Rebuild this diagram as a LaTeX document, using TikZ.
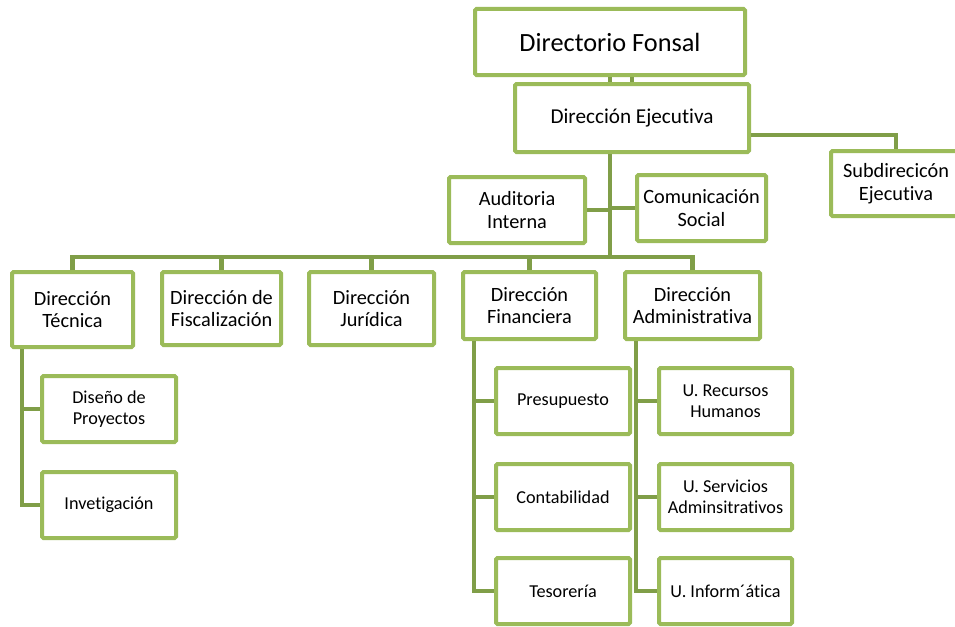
\documentclass[tikz,border=0pt]{standalone}
\usepackage{fontspec}
\setmainfont{Carlito}[Ligatures=NoCommon]
\usetikzlibrary{calc}
\definecolor{bord}{RGB}{155,187,89}
\definecolor{conn}{RGB}{128,158,72}
\begin{document}
\begin{tikzpicture}[x=1pt,y=-1pt,
  box/.style={draw=bord, line width=4pt, fill=white, rounded corners=1.5pt, align=center, inner sep=0pt, text=black},
  ln/.style={draw=conn, line width=4.5pt},
  fA/.style={font=\fontsize{26.3}{30}\selectfont},
  fB/.style={font=\fontsize{21.2}{24}\selectfont},
  fC/.style={font=\fontsize{20.3}{22.5}\selectfont},
  fD/.style={font=\fontsize{18.2}{20.5}\selectfont},
  l3/.style={box, fD, minimum width=134, minimum height=66}]
\useasboundingbox (0,0) rectangle (955,626);

% top levels
\node[box, fA, minimum width=270, minimum height=66] (dirf) at (610,42) {Directorio Fonsal};
\node[box, fB, minimum width=234, minimum height=68] (deje) at (632,118) {Dirección Ejecutiva};
\node[box, fC, minimum width=130, minimum height=65] (sub) at (896,183.5) {Subdirecicón\\Ejecutiva};
\node[box, fC, minimum width=136, minimum height=66] (aud) at (517,210) {Auditoria\\Interna};
\node[box, fC, minimum width=129, minimum height=66] (com) at (701.5,208) {Comunicación\\Social};

% level 2
\node[box, fC, minimum width=121, minimum height=75] (tec) at (72.5,309.5) {Dirección\\Técnica};
\node[box, fC, minimum width=119, minimum height=73] (fis) at (221.5,308.5) {Dirección de\\Fiscalización};
\node[box, fC, minimum width=125, minimum height=73] (jur) at (371.5,308.5) {Dirección\\Jurídica};
\node[box, fC, minimum width=133, minimum height=67] (fin) at (529.5,305.5) {Dirección\\Financiera};
\node[box, fC, minimum width=135, minimum height=67] (adm) at (692.5,305.5) {Dirección\\Administrativa};

% level 3
\node[l3] (dis) at (109,409) {Diseño de\\Proyectos};
\node[l3] (inv) at (109,505) {Invetigación};
\node[l3] (pre) at (563,401) {Presupuesto};
\node[l3] (con) at (563,497) {Contabilidad};
\node[l3] (tes) at (563,591) {Tesorería};
\node[l3, minimum width=133] (rh) at (725.5,401) {U. Recursos\\Humanos};
\node[l3, minimum width=133] (sa) at (725.5,497) {U. Servicios\\Adminsitrativos};
\node[l3, minimum width=133] (inf) at (725.5,591) {U. Inform´ática};

% connectors
\coordinate (bus) at (610,257);
\draw[ln] (dirf.south) -- (dirf.south |- deje.north);
\draw[ln] (deje.north) -- (deje.north |- dirf.south);
\draw[ln] (deje.south -| dirf.south) -- (bus);
\draw[ln] ($(deje.east)+(0,17)$) -| (sub.north);
\draw[ln] (aud.east) -- (aud.east -| bus);
\draw[ln] (com.west) -- (com.west -| bus);
\draw[ln] (tec.north) |- (bus);
\draw[ln] (fis.north) -- (fis.north |- bus);
\draw[ln] (jur.north) -- (jur.north |- bus);
\draw[ln] (fin.north) -- (fin.north |- bus);
\draw[ln] (adm.north) |- (bus);

\coordinate (tv) at ($(tec.south west)+(12,0)$);
\draw[ln] (tv) |- (inv.west);
\draw[ln] (dis.west) -- (dis.west -| tv);

\coordinate (fv) at ($(fin.south west)+(13,0)$);
\draw[ln] (fv) |- (tes.west);
\draw[ln] (pre.west) -- (pre.west -| fv);
\draw[ln] (con.west) -- (con.west -| fv);

\coordinate (av) at ($(adm.south west)+(13,0)$);
\draw[ln] (av) |- (inf.west);
\draw[ln] (rh.west) -- (rh.west -| av);
\draw[ln] (sa.west) -- (sa.west -| av);
\end{tikzpicture}
\end{document}
